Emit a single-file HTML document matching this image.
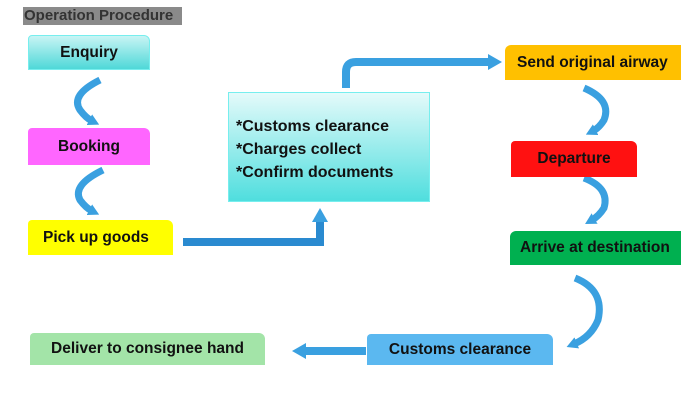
<!DOCTYPE html>
<html><head><style>
body{margin:0;width:681px;height:400px;background:#fff;position:relative;overflow:hidden;font-family:"Liberation Sans",sans-serif}
.b{position:absolute;display:flex;align-items:center;font-weight:bold;font-size:15.5px;color:#111;box-sizing:border-box;border-radius:4px 6px 0 0}
.t{position:absolute;left:23px;top:7px;width:159px;height:18px;background:#8a8a8a;color:#333;font-weight:bold;font-size:15px;line-height:18px;padding-left:1px;box-sizing:border-box;white-space:nowrap;overflow:hidden}
</style></head><body>
<div class="t">Operation Procedure</div>
<svg width="681" height="400" style="position:absolute;left:0;top:0">
<defs><marker id="h" markerUnits="userSpaceOnUse" markerWidth="14" markerHeight="16" refX="4" refY="8" orient="auto"><path d="M0,0L14,8L0,16z" fill="#3aa0e0"/></marker>
<marker id="s" markerUnits="userSpaceOnUse" markerWidth="11" markerHeight="12" refX="3" refY="6" orient="auto"><path d="M0,0L11,6L0,12z" fill="#3aa0e0"/></marker></defs>
<g fill="none" stroke="#3aa0e0" stroke-linecap="butt">
<path d="M100,80 Q70,95 80,110 Q86,118 92,121" marker-end="url(#s)" stroke-width="7"/>
<path d="M103,170 Q72,185 80,200 Q86,208 92,211" marker-end="url(#s)" stroke-width="7"/>
<path d="M584,88 Q612,100 604,120 Q599,128 593,131" marker-end="url(#s)" stroke-width="7"/>
<path d="M584,178 Q610,188 604,208 Q599,216 592,220" marker-end="url(#s)" stroke-width="7"/>
<path d="M575,278 Q605,290 598,320 Q591,337 574,344" marker-end="url(#s)" stroke-width="7"/>
<path d="M183,242 H320 V218" marker-end="url(#h)" stroke-width="8" stroke="#2a8ad0"/>
<path d="M346,88 V72 Q346,62 356,62 H492" marker-end="url(#h)" stroke-width="8"/>
<path d="M366,351 H302" marker-end="url(#h)" stroke-width="8"/>
</g>
</svg>
<div class="b" style="left:28px;top:35px;width:122px;height:35px;justify-content:center;background:linear-gradient(#c8f4f4,#4fd8d8);border:1px solid #7ee">Enquiry</div>
<div class="b" style="left:28px;top:128px;width:122px;height:37px;justify-content:center;background:#ff66ff">Booking</div>
<div class="b" style="left:28px;top:220px;width:145px;height:35px;padding-left:15px;background:#ffff00">Pick up goods</div>
<div class="b" style="left:228px;top:92px;width:202px;height:110px;border-radius:0;background:linear-gradient(#e4fafa,#4fdede);border:1px solid #7ee;padding-left:7px;padding-top:4px;font-size:16px;line-height:23px;align-items:center">*Customs clearance<br>*Charges collect<br>*Confirm documents</div>
<div class="b" style="left:505px;top:45px;width:176px;height:35px;padding-left:12px;background:#ffc000;white-space:nowrap;overflow:hidden;border-radius:6px 0 0 0">Send original airway</div>
<div class="b" style="left:511px;top:141px;width:126px;height:36px;justify-content:center;background:#ff1111">Departure</div>
<div class="b" style="left:510px;top:231px;width:171px;height:34px;padding-left:10px;background:#00b050;white-space:nowrap;overflow:hidden;border-radius:6px 0 0 0">Arrive at destination</div>
<div class="b" style="left:367px;top:334px;width:186px;height:31px;justify-content:center;background:#5bb8f0">Customs clearance</div>
<div class="b" style="left:30px;top:333px;width:235px;height:32px;justify-content:center;background:#a3e4a8">Deliver to consignee hand</div>
</body></html>
